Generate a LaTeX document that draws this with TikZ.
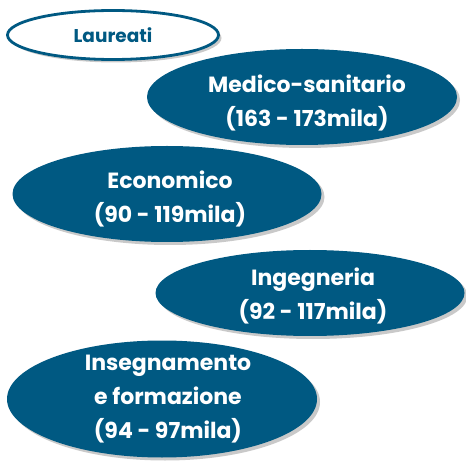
\documentclass[tikz,border=0pt]{standalone}
\usepackage{fontspec}
\setmainfont{Poppins}
\usetikzlibrary{shapes.geometric,shadows}
\definecolor{dblue}{RGB}{0,89,130}
\begin{document}
\begin{tikzpicture}[x=1pt,y=1pt,
  blob/.style={ellipse, fill=dblue, draw=none, inner sep=0pt,
    drop shadow={opacity=0.35, shadow xshift=3pt, shadow yshift=-3pt, fill=black!60}},
  wtxt/.style={text=white, align=center, font=\fontsize{22}{34}\selectfont\bfseries, inner sep=0pt},
  topblob/.style={ellipse, fill=white, draw=dblue, line width=2.8pt, inner sep=0pt,
    drop shadow={opacity=0.35, shadow xshift=3pt, shadow yshift=-3pt, fill=black!60}}]
\useasboundingbox (0,0) rectangle (466,461);
\fill[white] (0,0) rectangle (466,461);
\node[topblob, minimum width=211pt, minimum height=49pt] (lau) at (113,426) {};
\node[text=dblue, font=\fontsize{18.5}{22}\selectfont\bfseries, inner sep=0pt] (laut) at (113,426) {Laureati};
\node[blob, minimum width=310pt, minimum height=96pt] (med) at (302,364) {};
\node[wtxt] (medt) at (307,358) {Medico-sanitario\\(163 - 173mila)};
\node[blob, minimum width=309pt, minimum height=96pt] (eco) at (167,267) {};
\node[wtxt] (ecot) at (170,262) {Economico\\(90 - 119mila)};
\node[blob, minimum width=309pt, minimum height=86pt] (ing) at (310,168) {};
\node[wtxt] (ingt) at (313,165) {Ingegneria\\(92 - 117mila)};
\node[blob, minimum width=310pt, minimum height=117pt] (ins) at (162,62) {};
\node[wtxt] (inst) at (168,62) {Insegnamento\\e formazione\\(94 - 97mila)};
\end{tikzpicture}
\end{document}
